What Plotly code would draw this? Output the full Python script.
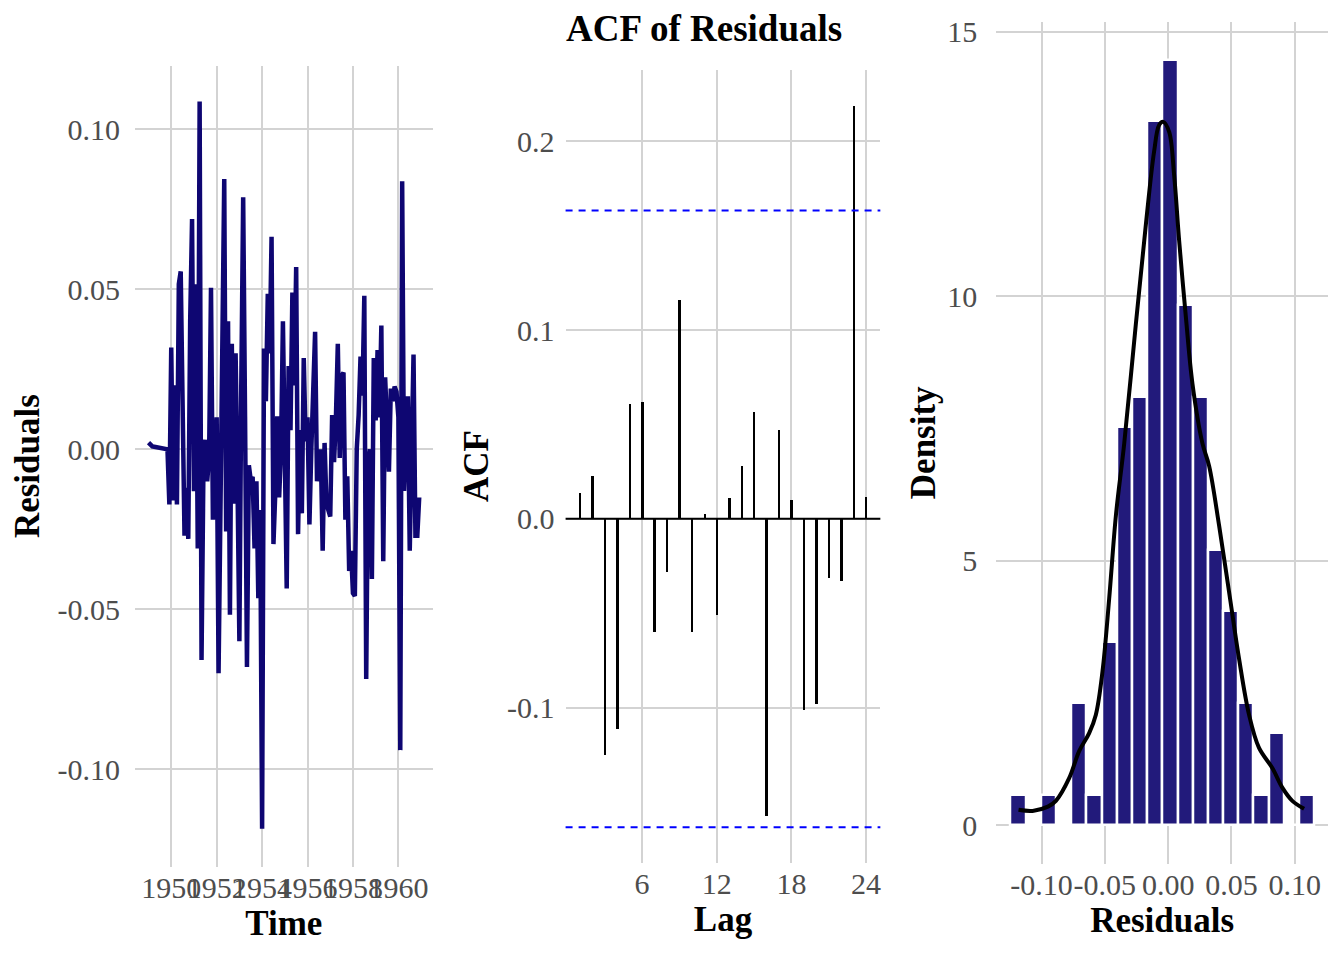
import numpy as np
import plotly.graph_objects as go

# residuals of the fitted model, monthly from Jan 1949, one row per year
residuals = [
    0.0021, 0.0013, 0.0009, 0.0008, 0.0007, 0.0006, 0.0005, 0.0005, 0.0004, 0.0003, 0.0000, -0.0172,
    0.0318, -0.0160, 0.0200, -0.0172, 0.0516, 0.0556, 0.0208, -0.0270, -0.0120, -0.0280, 0.0400, 0.0720,
    -0.0131, 0.0516, -0.0310, 0.1087, -0.0658, -0.0060, 0.0030, -0.0100, -0.0020, 0.0505, -0.0220, 0.0000,
    0.0100, -0.0700, -0.0200, 0.0300, 0.0845, -0.0257, 0.0400, -0.0517, 0.0330, -0.0170, 0.0300, -0.0100,
    -0.0600, 0.0200, 0.0788, 0.0100, -0.0680, -0.0050, -0.0097, -0.0086, -0.0310, -0.0100, -0.0465, -0.0190,
    -0.1186, 0.0315, 0.0150, 0.0486, 0.0300, 0.0664, -0.0296, -0.0130, 0.0103, -0.0150, 0.0000, 0.0400,
    -0.0050, -0.0435, 0.0260, 0.0060, 0.0490, 0.0200, 0.0570, -0.0265, 0.0060, -0.0200, 0.0285, 0.0025,
    0.0100, -0.0235, 0.0000, 0.0150, 0.0367, -0.0100, -0.0030, 0.0000, -0.0317, 0.0020, -0.0170, -0.0190,
    -0.0210, 0.0107, -0.0040, 0.0100, 0.0330, -0.0027, 0.0230, 0.0240, -0.0220, -0.0084, -0.0380, -0.0317,
    -0.0450, -0.0458, 0.0000, 0.0107, 0.0290, 0.0168, 0.0480, -0.0718, -0.0040, 0.0000, -0.0405, 0.0285,
    0.0090, 0.0310, 0.0100, 0.0387, -0.0350, 0.0225, 0.0100, -0.0070, 0.0190, 0.0150, 0.0196, 0.0180,
    0.0100, -0.0940, 0.0838, -0.0130, 0.0050, 0.0166, -0.0317, 0.0100, 0.0296, -0.0270, -0.0270, -0.0150,
]
start_year = 1949
freq = 12

# autocorrelation of the residuals
acf_lags = list(range(1, 25))
acf_values = [0.014, 0.023, -0.125, -0.111, 0.061, 0.062, -0.060, -0.028, 0.116, -0.060, 0.003, -0.051,
              0.011, 0.028, 0.057, -0.157, 0.047, 0.010, -0.101, -0.098, -0.031, -0.033, 0.219, 0.012]

# histogram of residuals (counts per bin) and density curve
hist_counts = [1, 0, 1, 0, 4, 1, 6, 13, 14, 23, 25, 17, 14, 9, 7, 4, 1, 3, 0, 1]
hist_start = -0.1244
hist_binwidth = 0.0120
kde_x = [-0.1182, -0.1071, -0.0950, -0.0887, -0.0782, -0.0703, -0.0624, -0.0571, -0.0519, -0.0466,
         -0.0413, -0.0347, -0.0255, -0.0176, -0.0111, -0.0071, -0.0039, 0.0008, 0.0047, 0.0087,
         0.0140, 0.0192, 0.0271, 0.0324, 0.0403, 0.0482, 0.0560, 0.0639, 0.0718, 0.0823,
         0.0902, 0.0981, 0.1074]
kde_y = [0.29, 0.27, 0.35, 0.46, 0.89, 1.40, 1.74, 2.09, 2.90, 4.28,
         5.85, 7.22, 9.48, 11.36, 12.74, 13.24, 13.30, 13.11, 12.30, 11.05,
         9.61, 8.35, 7.22, 6.79, 5.66, 4.40, 3.15, 2.09, 1.46, 1.08,
         0.71, 0.46, 0.31]

# tick labels
time_ticks = [1950, 1952, 1954, 1956, 1958, 1960]
resid_ticks = [-0.10, -0.05, 0.00, 0.05, 0.10]
resid_ticktext = ["-0.10", "-0.05", "0.00", "0.05", "0.10"]
acf_yticks = [-0.1, 0.0, 0.1, 0.2]
acf_yticktext = ["-0.1", "0.0", "0.1", "0.2"]
lag_ticks = [6, 12, 18, 24]
dens_ticks = [0, 5, 10, 15]

n = len(residuals)
t = start_year + np.arange(n) / freq
ci = 1.96 / np.sqrt(n)
counts = np.array(hist_counts)
centers = hist_start + hist_binwidth * (np.arange(len(counts)) + 0.5)
density = counts / (n * hist_binwidth)

# the page body adds an 8px margin, so the figure is shrunk to fit the window
OFF = 8
W, H = 1344 - OFF, 960 - OFF


def fx(px):
    return (px - OFF) / W


def fy(py):
    return 1 - (py - OFF) / H


SERIF = "Liberation Serif"
tick_font = dict(family=SERIF, size=30, color="#4D4D4D")
title_font = dict(family=SERIF, size=35, color="black", weight="bold")
grid = dict(showgrid=True, gridcolor="#D3D3D3", gridwidth=2, zeroline=False,
            showline=False, ticks="", tickfont=tick_font)

fig = go.Figure()

# Panel 1: residuals over time
fig.add_trace(go.Scatter(x=t, y=residuals, mode="lines",
                         line=dict(color="#0E0672", width=4.5),
                         xaxis="x", yaxis="y", showlegend=False))

# Panel 2: ACF
fig.add_trace(go.Bar(x=acf_lags, y=acf_values, width=0.16, marker_color="black",
                     marker_line_width=0, xaxis="x2", yaxis="y2", showlegend=False))

# Panel 3: histogram + density
fig.add_trace(go.Bar(x=centers, y=density, width=hist_binwidth,
                     marker=dict(color="#221A7B", line=dict(color="white", width=2.5)),
                     xaxis="x3", yaxis="y3", showlegend=False))
fig.add_trace(go.Scatter(x=kde_x, y=kde_y, mode="lines", line_shape="spline",
                         line=dict(color="black", width=4),
                         xaxis="x3", yaxis="y3", showlegend=False))

# zero line and confidence bounds on the ACF panel
fig.add_shape(type="line", xref="x2 domain", yref="y2", x0=0, x1=1, y0=0, y1=0,
              line=dict(color="black", width=2))
for yb in (ci, -ci):
    fig.add_shape(type="line", xref="x2 domain", yref="y2", x0=0, x1=1, y0=yb, y1=yb,
                  line=dict(color="blue", width=2, dash="7px,6px"))

fig.update_layout(
    width=W, height=H, autosize=False,
    margin=dict(l=0, r=0, t=0, b=0),
    paper_bgcolor="white", plot_bgcolor="white",
    bargap=0,
    title=dict(text="ACF of Residuals", x=fx(566), xanchor="left",
               y=fy(28), yanchor="middle",
               font=dict(family=SERIF, size=37, color="black", weight="bold")),
    xaxis=dict(domain=[fx(135), fx(433)], range=[1948.40, 1961.51], anchor="y",
               tickvals=time_ticks, ticktext=[str(v) for v in time_ticks],
               tickangle=0, ticklabelstandoff=0,
               title=dict(text="Time", font=title_font, standoff=4), **grid),
    yaxis=dict(domain=[fy(866), fy(60)], range=[-0.1304, 0.1199], anchor="x",
               tickvals=resid_ticks, ticktext=resid_ticktext, ticklabelstandoff=14,
               title=dict(text="Residuals", font=title_font, standoff=12), **grid),
    xaxis2=dict(domain=[fx(566), fx(881)], range=[-0.15, 25.15], anchor="y2",
                tickvals=lag_ticks, ticktext=[str(v) for v in lag_ticks],
                tickangle=0, ticklabelstandoff=0,
                title=dict(text="Lag", font=title_font, standoff=4), **grid),
    yaxis2=dict(domain=[fy(862), fy(64)], range=[-0.1821, 0.2379], anchor="x2",
                tickvals=acf_yticks, ticktext=acf_yticktext, ticklabelstandoff=10,
                title=dict(text="ACF", font=title_font, standoff=7), **grid),
    xaxis3=dict(domain=[fx(997), fx(1329)], range=[-0.1358, 0.1263], anchor="y3",
                tickvals=resid_ticks, ticktext=resid_ticktext,
                tickangle=0, ticklabelstandoff=0,
                title=dict(text="Residuals", font=title_font, standoff=4), **grid),
    yaxis3=dict(domain=[fy(863), fy(16)], range=[-0.727, 15.19], anchor="x3",
                tickvals=dens_ticks, ticktext=[str(v) for v in dens_ticks],
                ticklabelstandoff=18,
                title=dict(text="Density", font=title_font, standoff=0), **grid),
)

fig.write_html("out.html")
